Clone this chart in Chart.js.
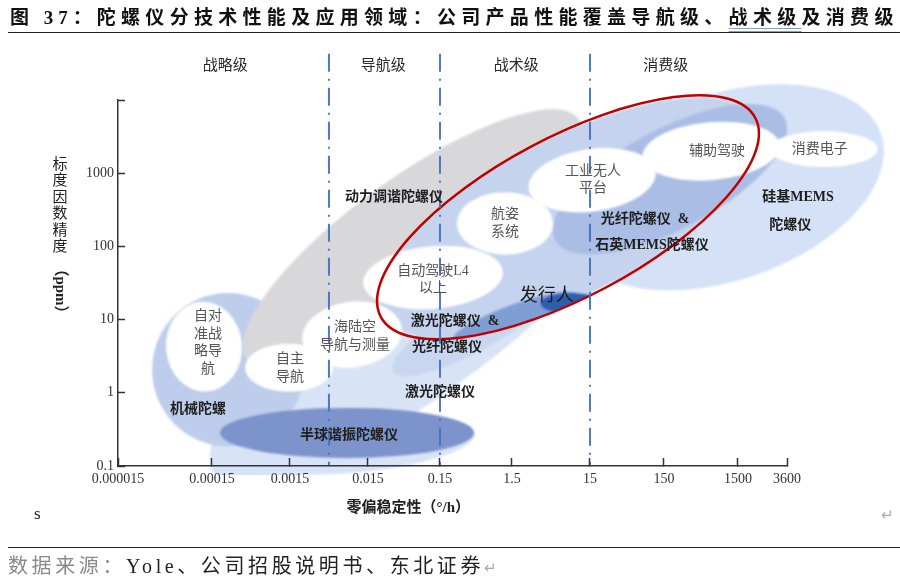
<!DOCTYPE html>
<html>
<head>
<meta charset="utf-8">
<script src="https://cdn.jsdelivr.net/npm/chart.js@4.4.0/dist/chart.umd.min.js"></script>
<style>
  body { margin: 0; background: #fff; }
  #wrap { position: relative; width: 900px; height: 582px; overflow: hidden; }
  #c { position: absolute; left: 0; top: 0; }
  .title { position: absolute; left: 10px; top: 2px; white-space: nowrap; color: #111;
           font: bold 19px "Liberation Serif", "Noto Sans CJK SC"; letter-spacing: 5.3px; }
  .title .no { letter-spacing: 5px; }
  .title .mark { text-decoration: underline double #7f9fd8; text-underline-offset: 4px; }
  .rule { position: absolute; left: 8px; right: 0; height: 1px; background: #222; }
  .source { position: absolute; left: 8px; top: 550px; white-space: nowrap; color: #222;
            font: 20px "Liberation Serif", "Noto Sans CJK SC"; letter-spacing: 3.6px; }
  .source .lead { color: #8a8a8a; }
  .source .ret, .ret2 { color: #aaa; font-size: 15px; }
  .stray { position: absolute; left: 34px; top: 504px; font: 17px "Liberation Serif"; color: #222; }
  .ret2 { position: absolute; left: 881px; top: 506px; }
</style>
</head>
<body>
<div id="wrap">
  <canvas id="c" width="900" height="582"></canvas>
  <div class="title"><span class="no">图 37：</span>陀螺仪分技术性能及应用领域：公司产品性能覆盖导航级、<span class="mark">战术级</span>及消费级</div>
  <div class="rule" style="top:32px"></div>
  <div class="stray">s</div>
  <div class="ret2">↵</div>
  <div class="rule" style="top:547px"></div>
  <div class="source"><span class="lead">数据来源：</span>Yole、公司招股说明书、东北证券<span class="ret">↵</span></div>
</div>
<script>
// x axis: bias stability (°/h), ticks placed along the axis as in the source figure
const xTickLabels = ['0.000015', '0.00015', '0.0015', '0.015', '0.15', '1.5', '15', '150', '1500', '3600'];
const xTickAt = [0, 1.201, 2.198, 3.195, 4.115, 5.035, 6.032, 6.978, 7.923, 8.55];
// y axis: scale factor accuracy (ppm), log scale
const yTickValues = [0.1, 1, 10, 100, 1000, 10000];
const yTickLabels = ['0.1', '1', '10', '100', '1000', ''];

// grade bands and their borders (x axis units)
const tierNames = ['战略级', '导航级', '战术级', '消费级'];
const tierX = [1.37, 3.39, 5.09, 7.0];
const tierY = 29000;
const tierBorders = [2.696, 4.115, 6.032];
const tierBorderTop = 42700;

// technology regions: centre (x, ppm), half length / half width (x units), tilt in degrees
const regionNames = ['激光/光纤陀螺仪', '激光陀螺仪下沿', '硅基MEMS陀螺仪', '机械陀螺', '动力调谐陀螺仪', '激光&光纤战术级',
  '发行人覆盖区', '光纤&石英MEMS', '发行人产品带', '发行人核心', '半球谐振陀螺仪'];
const regionX = [3.987, 2.965, 7.757, 1.406, 3.77, 4.626, 5.751, 7.054, 5.073, 5.802, 2.927];
const regionY = [12.9, 0.194, 643, 2.07, 125, 9.4, 250, 828, 10.6, 16.6, 0.283];
const regionHalfLen = [3.45, 1.6, 2.109, 0.97, 2.62, 1.28, 2.66, 1.661, 0.85, 0.40, 1.623];
const regionHalfWid = [0.96, 0.36, 1.189, 0.98, 0.79, 0.33, 1.0, 0.639, 0.17, 0.13, 0.32];
const regionTilt = [37, 5, 19, 0, 35.8, 30, 28, 28, 20, 0, 0];
const regionInRing = [false, false, false, false, false, false, false, false, true, true, false];

// application areas (white ellipses)
const appNames = ['自对\n准战\n略导\n航', '自主\n导航', '海陆空\n导航与测量', '自动驾驶L4\n以上', '航姿\n系统', '工业无人\n平台', '辅助驾驶', '消费电子'];
const appX = [1.099, 2.185, 2.99, 4.026, 4.946, 6.06, 7.58, 9.02];
const appY = [4.27, 2.2, 6.24, 37.6, 206, 802, 2000, 2133];
const appHalfW = [0.486, 0.562, 0.64, 0.895, 0.613, 0.82, 0.88, 0.69];
const appHalfH = [0.575, 0.307, 0.42, 0.40, 0.40, 0.40, 0.37, 0.23];
const appTilt = [4, 0, 8, 5, 0, 8, 5, 0];
const appTextX = [1.15, 2.198, 3.029, 4.026, 4.946, 6.07, 7.655, 8.97];
const appTextY = [4.84, 2.17, 5.94, 34.8, 206, 815, 2000, 2133];

// the issuer's product ring
const ringX = 5.751, ringY = 250, ringHalfLen = 2.71, ringHalfWid = 1.02, ringTilt = 28;

// technology captions
const techNames = ['动力调谐陀螺仪', '激光陀螺仪  &', '光纤陀螺仪', '激光陀螺仪', '机械陀螺', '半球谐振陀螺仪', '光纤陀螺仪  &', '石英MEMS陀螺仪', '硅基MEMS', '陀螺仪'];
const techX = [3.527, 4.307, 4.204, 4.115, 1.022, 2.952, 6.735, 6.824, 8.69, 8.59];
const techY = [469, 9.4, 4.13, 1.0, 0.585, 0.258, 234, 103, 469, 194];
const issuerName = '发行人';
const issuerX = 5.48, issuerY = 20.7;

const xTitle = '零偏稳定性（°/h）';
const yTitleChars = ['标', '度', '因', '数', '精', '度'];
const yTitleUnit = '（ppm）';

// styles
const regionFill = ['rgb(216,228,246)', 'rgb(216,228,246)', 'rgb(212,225,246)', 'rgb(189,205,235)', 'rgb(216,216,219)',
  'rgb(201,214,240)', 'rgb(197,211,239)', 'rgb(170,189,228)', 'rgb(128,158,214)', 'rgb(46,93,173)', 'rgb(124,147,204)'];
const cjk = '"Liberation Serif", "Noto Sans CJK SC"';

const diagram = {
  id: 'diagram',
  beforeDatasetsDraw(chart) {
    const { ctx, chartArea } = chart;
    const x = chart.scales.x, y = chart.scales.y;
    const unit = x.getPixelForValue(1) - x.getPixelForValue(0);
    const path = (cx, cy, a, b, tilt) => {
      ctx.beginPath();
      ctx.ellipse(x.getPixelForValue(cx), y.getPixelForValue(cy), a * unit, b * unit, -tilt * Math.PI / 180, 0, Math.PI * 2);
    };
    ctx.save();
    ctx.beginPath();
    ctx.rect(0, 0, chart.width, chartArea.bottom + 9);
    ctx.clip();
    ctx.filter = 'blur(1px)';
    regionX.forEach((cx, i) => {
      ctx.save();
      if (regionInRing[i]) {
        path(ringX, ringY, ringHalfLen, ringHalfWid, ringTilt);
        ctx.clip();
      }
      path(cx, regionY[i], regionHalfLen[i], regionHalfWid[i], regionTilt[i]);
      ctx.fillStyle = regionFill[i];
      ctx.fill();
      ctx.restore();
    });
    appX.forEach((cx, i) => {
      path(cx, appY[i], appHalfW[i], appHalfH[i], appTilt[i]);
      ctx.fillStyle = '#fff';
      ctx.fill();
    });
    ctx.filter = 'none';
    path(ringX, ringY, ringHalfLen, ringHalfWid, ringTilt);
    ctx.strokeStyle = '#c00000';
    ctx.lineWidth = 2.5;
    ctx.stroke();
    ctx.restore();
  },
  afterDatasetsDraw(chart) {
    const { ctx, chartArea } = chart;
    const x = chart.scales.x, y = chart.scales.y;
    const text = (txt, cx, cy, font, color, lh) => {
      ctx.font = font;
      ctx.fillStyle = color;
      ctx.textAlign = 'center';
      ctx.textBaseline = 'middle';
      const lines = txt.split('\n');
      const px = x.getPixelForValue(cx), py = y.getPixelForValue(cy);
      lines.forEach((l, k) => ctx.fillText(l, px, py + (k - (lines.length - 1) / 2) * lh));
    };
    ctx.save();
    // grade borders
    ctx.strokeStyle = 'rgba(68,114,196,0.95)';
    ctx.lineWidth = 2;
    ctx.setLineDash([18, 7, 2, 7]);
    tierBorders.forEach(v => {
      const px = x.getPixelForValue(v);
      ctx.beginPath();
      ctx.moveTo(px, y.getPixelForValue(tierBorderTop));
      ctx.lineTo(px, chartArea.bottom);
      ctx.stroke();
    });
    ctx.setLineDash([]);
    tierNames.forEach((t, i) => text(t, tierX[i], tierY, '15px ' + cjk, '#2a2a2a', 0));
    appNames.forEach((t, i) => text(t, appTextX[i], appTextY[i], '14px ' + cjk, '#555', 17.5));
    techNames.forEach((t, i) => text(t, techX[i], techY[i], 'bold 14px ' + cjk, '#1e1e1e', 0));
    text(issuerName, issuerX, issuerY, '18px ' + cjk, '#1a1a1a', 0);
    // axis titles
    ctx.fillStyle = '#222';
    ctx.textAlign = 'center';
    ctx.textBaseline = 'middle';
    ctx.font = 'bold 15px ' + cjk;
    ctx.fillText(xTitle, chartArea.left + (chartArea.right - chartArea.left) * 0.434, chartArea.bottom + 42);
    ctx.font = '15px ' + cjk;
    const tx = chartArea.left - 58;
    yTitleChars.forEach((ch, i) => ctx.fillText(ch, tx, 165 + i * 16.5));
    ctx.translate(tx, 291);
    ctx.rotate(Math.PI / 2);
    ctx.font = 'bold 15px ' + cjk;
    ctx.fillText(yTitleUnit, 0, 0);
    ctx.restore();
  }
};

const tickFont = { family: '"Liberation Serif"', size: 14 };

new Chart(document.getElementById('c'), {
  type: 'scatter',
  data: { datasets: [{ data: [], pointRadius: 0 }] },
  options: {
    responsive: false,
    animation: false,
    layout: { padding: { left: 0, top: 100, right: 113, bottom: 0 } },
    plugins: { legend: { display: false }, tooltip: { enabled: false } },
    scales: {
      x: {
        type: 'linear', min: 0, max: 8.55,
        afterBuildTicks: s => { s.ticks = xTickAt.map(v => ({ value: v })); },
        afterFit: s => { s.height = 116; },
        ticks: { autoSkip: false, maxRotation: 0, padding: 13, color: '#333', font: tickFont, z: 1,
                 callback: (v, i) => xTickLabels[i] },
        grid: { drawOnChartArea: false, tickLength: -8, tickColor: '#333', tickWidth: 1.5, z: 1 },
        border: { color: '#333', width: 1.5, z: 1 }
      },
      y: {
        type: 'logarithmic', min: 0.1, max: 10000,
        afterBuildTicks: s => { s.ticks = yTickValues.map(v => ({ value: v })); },
        afterFit: s => { s.width = 118; },
        ticks: { padding: 11, color: '#333', font: tickFont, z: 1,
                 callback: (v, i) => yTickLabels[i] },
        grid: { drawOnChartArea: false, tickLength: -7, tickColor: '#333', tickWidth: 1.5, z: 1 },
        border: { color: '#333', width: 1.5, z: 1 }
      }
    }
  },
  plugins: [diagram]
});
</script>
</body>
</html>
